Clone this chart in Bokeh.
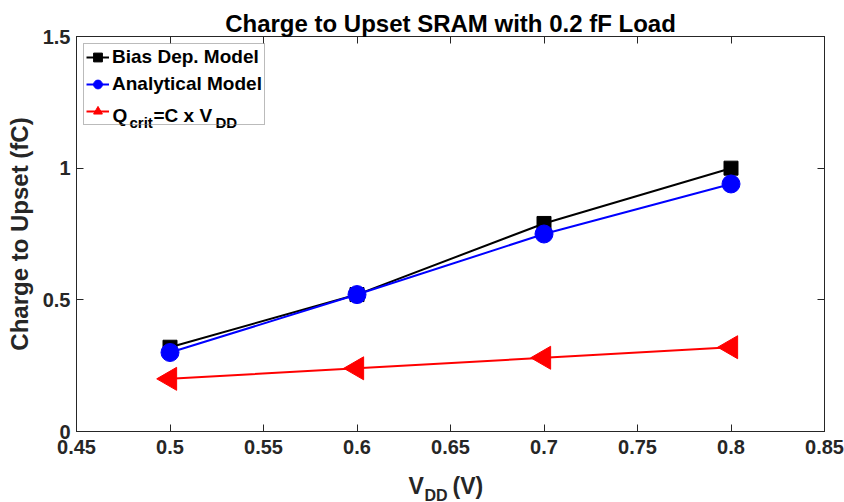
import numpy as np
from bokeh.plotting import figure
from bokeh.layouts import column
from bokeh.models import (LinearAxis, FixedTicker, Range1d, Legend, LegendItem,
                          Label, CustomJSTickFormatter)
from bokeh.core.properties import value
from bokeh.embed import file_html
from bokeh.resources import INLINE

# ---- data ----
vdd = [0.5, 0.6, 0.7, 0.8]
bias_dep = [0.32, 0.52, 0.79, 1.00]
analytical = [0.30, 0.52, 0.75, 0.94]
qcrit = [0.20, 0.24, 0.28, 0.32]

x_ticks = [0.45, 0.5, 0.55, 0.6, 0.65, 0.7, 0.75, 0.8, 0.85]
x_tick_labels = ["0.45", "0.5", "0.55", "0.6", "0.65", "0.7", "0.75", "0.8", "0.85"]
y_ticks = [0, 0.5, 1, 1.5]
y_tick_labels = ["0", "0.5", "1", "1.5"]

title_text = "Charge to Upset SRAM with 0.2 fF Load"
y_label = "Charge to Upset (fC)"
series_names = ["Bias Dep. Model", "Analytical Model"]

FONT = "Liberation Sans"
AX = "#262626"
W, L_B, R_B = 844, 76, 20

p = figure(width=W, height=466, output_backend="svg", toolbar_location=None,
           x_range=Range1d(x_ticks[0], x_ticks[-1]),
           y_range=Range1d(y_ticks[0], y_ticks[-1]),
           min_border_left=L_B, min_border_right=R_B, min_border_top=36,
           min_border_bottom=35)
p.xgrid.visible = False
p.ygrid.visible = False
p.outline_line_color = AX
p.outline_line_width = 1
p.background_fill_color = "white"
p.border_fill_color = "white"

p.title.text = title_text
p.title.align = "center"
p.title.text_font = FONT
p.title.text_font_style = "bold"
p.title.text_font_size = "24px"
p.title.text_color = "black"
p.title.standoff = 0


def style_axis(ax):
    ax.major_tick_in = 7
    ax.major_tick_out = 0
    ax.minor_tick_in = 0
    ax.minor_tick_out = 0
    ax.axis_line_color = AX
    ax.major_tick_line_color = AX
    ax.major_label_text_font = FONT
    ax.major_label_text_font_style = "bold"
    ax.major_label_text_font_size = "20px"
    ax.major_label_text_color = AX


xa = p.xaxis[0]
xa.ticker = FixedTicker(ticks=x_ticks)
xa.major_label_overrides = {t: l for t, l in zip(x_ticks, x_tick_labels)}
style_axis(xa)
xa.major_label_standoff = 8

ya = p.yaxis[0]
ya.ticker = FixedTicker(ticks=y_ticks)
ya.major_label_overrides = {t: l for t, l in zip(y_ticks, y_tick_labels)}
style_axis(ya)
ya.major_label_standoff = 6
ya.axis_label = y_label
ya.axis_label_text_font = FONT
ya.axis_label_text_font_style = "bold"
ya.axis_label_text_font_size = "24px"
ya.axis_label_text_color = AX
ya.axis_label_standoff = 7

blank = CustomJSTickFormatter(code="return ''")
top = LinearAxis(ticker=FixedTicker(ticks=x_ticks), formatter=blank)
style_axis(top)
top.major_label_standoff = 7
p.add_layout(top, "above")
right = LinearAxis(ticker=FixedTicker(ticks=y_ticks), formatter=blank)
style_axis(right)
right.major_label_standoff = 0
p.add_layout(right, "right")

# ---- series ----
l1 = p.line(vdd, bias_dep, line_color="black", line_width=2)
m1 = p.scatter(vdd, bias_dep, marker="square", size=14, fill_color="black", line_color="black")
l2 = p.line(vdd, analytical, line_color="#0000ff", line_width=2)
m2 = p.scatter(vdd, analytical, marker="circle", size=18, fill_color="#0000ff", line_color="#0000ff")
l3 = p.line(vdd, qcrit, line_color="#ff0000", line_width=2)
m3 = p.scatter(vdd, qcrit, marker="triangle", size=23, angle=np.pi / 2,
               fill_color="#ff0000", line_color="#ff0000")

legend = Legend(items=[LegendItem(label=series_names[0], renderers=[l1, m1]),
                       LegendItem(label=series_names[1], renderers=[l2, m2]),
                       LegendItem(label=" ", renderers=[l3, m3])],
                location="top_left", margin=7, padding=2, spacing=5,
                glyph_width=23, glyph_height=22, label_standoff=3,
                label_text_font=FONT, label_text_font_style="bold",
                label_text_font_size="19px", label_text_color="black",
                border_line_color="#777777", border_line_width=1,
                background_fill_alpha=0)
p.add_layout(legend)


def lab(text, dx, dy, size):
    p.add_layout(Label(x=x_ticks[0], y=y_ticks[-1], x_offset=dx, y_offset=dy,
                       text=text, level="overlay",
                       text_font=FONT, text_font_style="bold",
                       text_font_size=size, text_color="black",
                       text_align="left", text_baseline="alphabetic"))


# third legend entry with subscripts: Q_crit = C x V_DD
lab("Q", 36, -79, "19px")
lab("crit", 53, -86, "15px")
lab("=C x V", 77, -79, "19px")
lab("DD", 139, -86, "15px")

xm = (x_ticks[0] + x_ticks[-1]) / 2

# ---- x axis label strip: V_DD (V) ----
p2 = figure(width=W, height=36, output_backend="svg", toolbar_location=None,
            title=None, x_range=p.x_range, y_range=Range1d(36, 0),
            min_border_left=L_B, min_border_right=R_B, min_border_top=0,
            min_border_bottom=0, x_axis_location=None, y_axis_location=None)
p2.xgrid.visible = False
p2.ygrid.visible = False
p2.outline_line_color = None
p2.border_fill_color = "white"
p2.background_fill_color = "white"


def xl(text, dx, base, size):
    p2.text(x=[xm], y=[base], text=[text], x_offset=dx,
            text_font=value(FONT), text_font_style="bold", text_font_size=size,
            text_color=AX, text_align="left", text_baseline="alphabetic")


xl("V", -42, 19, "23px")
xl("DD", -26, 29, "16px")
xl("(V)", 2, 19, "23px")

layout = column(p, p2, spacing=0)
open("out.html", "w").write(file_html(layout, INLINE))
